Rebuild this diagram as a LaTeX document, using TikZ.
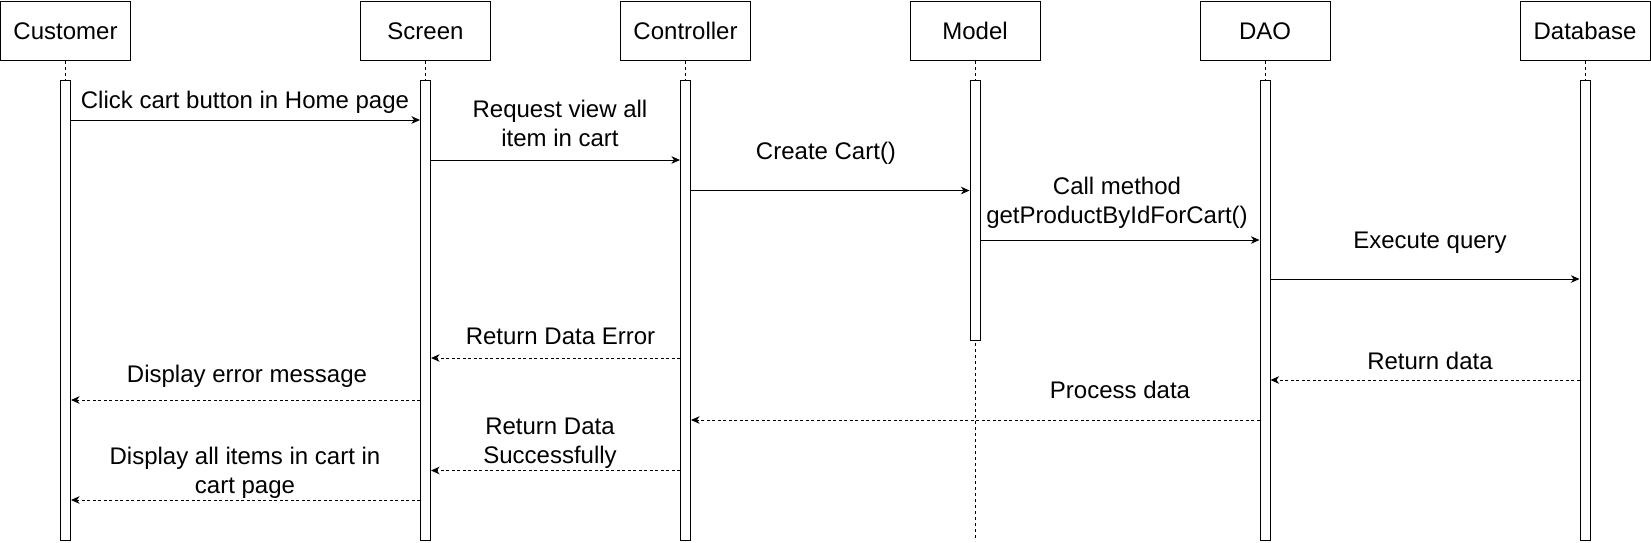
\documentclass[tikz,border=0pt]{standalone}
\usepackage{fontspec}
\setmainfont{Liberation Sans}
\usetikzlibrary{arrows.meta}
\begin{document}
\begin{tikzpicture}[x=1pt,y=-1pt,
  every node/.style={font=\fontsize{24}{29}\selectfont},
  actor/.style={draw,line width=1pt,fill=white,minimum width=130pt,minimum height=59.4pt,inner sep=0pt,anchor=north},
  bar/.style={draw,line width=1pt,fill=white,minimum width=10pt,inner sep=0pt,anchor=north},
  life/.style={line width=0.9pt,dash pattern=on 3pt off 3pt},
  msg/.style={line width=1pt,-{Stealth[length=8.5pt,width=7.5pt,inset=2.5pt]}},
  ret/.style={msg,dash pattern=on 3pt off 2.5pt},
  lbl/.style={align=center,inner sep=0pt}]
\useasboundingbox (0,0) rectangle (1651,542);
% actor boxes
\node[actor] (cust) at (65.5,0.6) {Customer};
\node[actor] (scr)  at (425.5,0.6) {Screen};
\node[actor] (ctrl) at (685.5,0.6) {Controller};
\node[actor] (mod)  at (975,0.6) {Model};
\node[actor] (dao)  at (1265,0.6) {DAO};
\node[actor] (db)   at (1585,0.6) {Database};
% lifeline ends
\coordinate (bot) at (0,541);
\draw[life] (cust.south) -- (cust.south |- bot);
\draw[life] (scr.south) -- (scr.south |- bot);
\draw[life] (ctrl.south) -- (ctrl.south |- bot);
\draw[life] (mod.south) -- (mod.south |- bot);
\draw[life] (dao.south) -- (dao.south |- bot);
\draw[life] (db.south) -- (db.south |- bot);
% activation bars
\node[bar,minimum height=460pt] (bcust) at (65.5,80) {};
\node[bar,minimum height=460pt] (bscr)  at (425.5,80) {};
\node[bar,minimum height=460pt] (bctrl) at (685.5,80) {};
\node[bar,minimum height=260pt] (bmod)  at (975,80) {};
\node[bar,minimum height=460pt] (bdao)  at (1265,80) {};
\node[bar,minimum height=460pt] (bdb)   at (1585,80) {};
% message levels
\coordinate (m1) at (0,120);
\coordinate (m2) at (0,160);
\coordinate (m3) at (0,190.5);
\coordinate (m4) at (0,240);
\coordinate (m5) at (0,279);
\coordinate (m6) at (0,358);
\coordinate (m7) at (0,380);
\coordinate (m8) at (0,400);
\coordinate (m9) at (0,420);
\coordinate (m10) at (0,470.5);
\coordinate (m11) at (0,500);
% messages
\draw[msg] (bcust.east |- m1) -- (bscr.west |- m1);
\draw[msg] (bscr.east |- m2) -- (bctrl.west |- m2);
\draw[msg] (bctrl.east |- m3) -- (bmod.west |- m3);
\draw[msg] (bmod.east |- m4) -- (bdao.west |- m4);
\draw[msg] (bdao.east |- m5) -- (bdb.west |- m5);
\draw[ret] (bctrl.west |- m6) -- (bscr.east |- m6);
\draw[ret] (bdb.west |- m7) -- (bdao.east |- m7);
\draw[ret] (bscr.west |- m8) -- (bcust.east |- m8);
\draw[ret] (bdao.west |- m9) -- (bctrl.east |- m9);
\draw[ret] (bctrl.west |- m10) -- (bscr.east |- m10);
\draw[ret] (bscr.west |- m11) -- (bcust.east |- m11);
% labels
\node[lbl] (l1) at (245,102) {Click cart button in Home page};
\node[lbl] (l2) at (560,123) {Request view all\\item in cart};
\node[lbl] (l3) at (826,153) {Create Cart()};
\node[lbl] (l4) at (1117,203) {Call method\\getProductByIdForCart()};
\node[lbl] (l5) at (1430,242.5) {Execute query};
\node[lbl] (l6) at (560.5,336.5) {Return Data Error};
\node[lbl] (l7) at (1430,360.5) {Return data};
\node[lbl] (l8) at (247,376.5) {Display error message};
\node[lbl] (l9) at (1120,390) {Process data};
\node[lbl] (l10) at (550,443) {Return Data\\Successfully};
\node[lbl] (l11) at (245,472.5) {Display all items in cart in\\cart page};
\end{tikzpicture}
\end{document}
